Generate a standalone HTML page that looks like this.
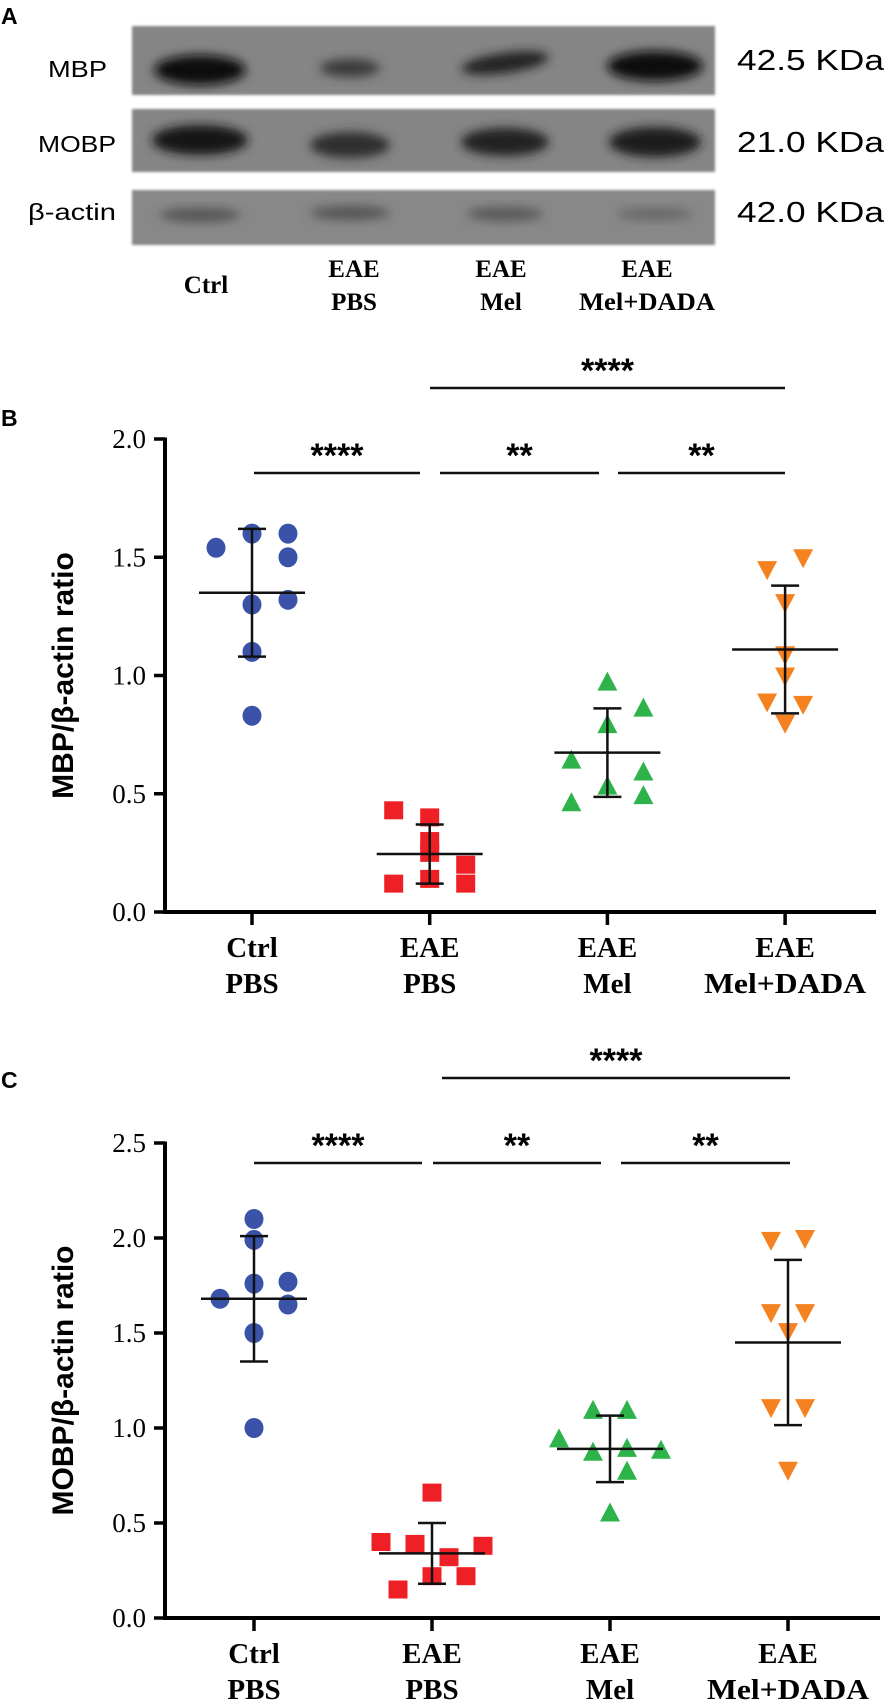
<!DOCTYPE html>
<html><head><meta charset="utf-8">
<style>
html,body{margin:0;padding:0;background:#fff;}
svg{display:block;}
.ser{font-family:"Liberation Serif",serif;}
.sans{font-family:"Liberation Sans",sans-serif;}
</style></head>
<body>
<svg id="fig" width="886" height="1704" viewBox="0 0 886 1704" xmlns="http://www.w3.org/2000/svg">
<defs>
<filter id="blur" x="-50%" y="-50%" width="200%" height="200%"><feGaussianBlur stdDeviation="5"/></filter>
<filter id="blur2" x="-50%" y="-50%" width="200%" height="200%"><feGaussianBlur stdDeviation="1.2"/></filter>
</defs>
<!-- Panel A -->
<g>
<text class="sans" x="1" y="24" font-size="23" font-weight="bold">A</text>
<g>
<rect x="132" y="26" width="583" height="69" fill="#858585" filter="url(#blur2)"/>
<ellipse cx="200" cy="70" rx="46" ry="15" fill="#101010" filter="url(#blur)"/>
<ellipse cx="350" cy="68" rx="30" ry="9" fill="#3a3a3a" filter="url(#blur)"/>
<ellipse cx="505" cy="63" rx="44" ry="10" fill="#222" transform="rotate(-8 505 63)" filter="url(#blur)"/>
<ellipse cx="655" cy="66" rx="48" ry="15" fill="#101010" filter="url(#blur)"/>
</g>
<g>
<rect x="132" y="109" width="583" height="63" fill="#858585" filter="url(#blur2)"/>
<ellipse cx="200" cy="140" rx="48" ry="15" fill="#151515" filter="url(#blur)"/>
<ellipse cx="350" cy="145" rx="40" ry="13" fill="#2e2e2e" filter="url(#blur)"/>
<ellipse cx="505" cy="142" rx="44" ry="14" fill="#222" filter="url(#blur)"/>
<ellipse cx="655" cy="142" rx="46" ry="15" fill="#1c1c1c" filter="url(#blur)"/>
</g>
<g>
<rect x="132" y="190" width="583" height="55" fill="#888" filter="url(#blur2)"/>
<ellipse cx="200" cy="215" rx="40" ry="7" fill="#555" filter="url(#blur)"/>
<ellipse cx="350" cy="213" rx="40" ry="7" fill="#555" filter="url(#blur)"/>
<ellipse cx="505" cy="214" rx="38" ry="7" fill="#585858" filter="url(#blur)"/>
<ellipse cx="655" cy="214" rx="38" ry="6" fill="#666" filter="url(#blur)"/>
</g>
<text class="sans" x="48" y="77" font-size="23" textLength="59" lengthAdjust="spacingAndGlyphs">MBP</text>
<text class="sans" x="38" y="152" font-size="23" textLength="78" lengthAdjust="spacingAndGlyphs">MOBP</text>
<text class="sans" x="28" y="220" font-size="23" textLength="88" lengthAdjust="spacingAndGlyphs">β-actin</text>
<text class="sans" x="737" y="70" font-size="29" textLength="147" lengthAdjust="spacingAndGlyphs">42.5 KDa</text>
<text class="sans" x="737" y="152" font-size="29" textLength="147" lengthAdjust="spacingAndGlyphs">21.0 KDa</text>
<text class="sans" x="737" y="222" font-size="29" textLength="147" lengthAdjust="spacingAndGlyphs">42.0 KDa</text>
<g class="ser" font-weight="bold" font-size="25" text-anchor="middle">
<text x="206" y="293">Ctrl</text>
<text x="354" y="277">EAE</text>
<text x="354" y="310">PBS</text>
<text x="501" y="277">EAE</text>
<text x="501" y="310">Mel</text>
<text x="647" y="277">EAE</text>
<text x="647" y="310" textLength="136" lengthAdjust="spacingAndGlyphs">Mel+DADA</text>
</g>
</g>
<text class="sans" x="1" y="426" font-size="23" font-weight="bold">B</text>
<text class="sans" x="1" y="1088" font-size="23" font-weight="bold">C</text>
<g id="chartB"></g>
<g id="chartC"></g>
</svg>
<script>
// ---- Panel B data (MBP/β-actin) ----
const groupLabels1 = ["Ctrl","EAE","EAE","EAE"];
const groupLabels2 = ["PBS","PBS","Mel","Mel+DADA"];
const bTicks = ["0.0","0.5","1.0","1.5","2.0"];
const bTickValues = [0,0.5,1.0,1.5,2.0];
const bCtrl = [1.54,1.60,1.60,1.50,1.30,1.32,1.10,0.83];
const bCtrlCol = [-2,0,2,2,0,2,0,0];
const bPbs = [0.43,0.12,0.40,0.30,0.25,0.14,0.20,0.12];
const bPbsCol = [-2,-2,0,0,0,0,2,2];
const bMel = [0.97,0.86,0.79,0.64,0.59,0.53,0.49,0.46];
const bMelCol = [0,2,0,-2,2,0,2,-2];
const bDada = [1.45,1.50,1.31,1.09,1.00,0.89,0.88,0.80];
const bDadaCol = [-1,1,0,0,0,-1,1,0];
const bMean = [1.35,0.245,0.674,1.11];
const bSd = [0.27,0.125,0.187,0.27];
const bSig = ["****","**","**","****"];
// ---- Panel C data (MOBP/β-actin) ----
const cTicks = ["0.0","0.5","1.0","1.5","2.0","2.5"];
const cTickValues = [0,0.5,1.0,1.5,2.0,2.5];
const cCtrl = [2.10,1.99,1.76,1.77,1.68,1.65,1.50,1.00];
const cCtrlCol = [0,0,0,2,-2,2,0,0];
const cPbs = [0.66,0.40,0.39,0.38,0.32,0.22,0.22,0.15];
const cPbsCol = [0,-3,-1,3,1,0,2,-2];
const cMel = [1.09,1.09,0.94,0.89,0.88,0.87,0.77,0.55];
const cMelCol = [-1,1,-3,1,3,-1,1,0];
const cDada = [1.99,2.00,1.61,1.61,1.51,1.11,1.11,0.78];
const cDadaCol = [-1,1,-1,1,0,-1,1,0];
const cMean = [1.68,0.34,0.89,1.45];
const cSd = [0.33,0.16,0.175,0.435];
const cSig = ["****","**","**","****"];

const NS = "http://www.w3.org/2000/svg";
const colors = ["#3a52a8","#ee2026","#2db34a","#f58220"];
function mk(tag, attrs, parent){const e=document.createElementNS(NS,tag);for(const k in attrs)e.setAttribute(k,attrs[k]);parent.appendChild(e);return e;}

function drawChart(g, cfg){
  const y = v => cfg.y0 - (v/cfg.vmax)*(cfg.y0-cfg.yTop);
  const x = i => cfg.xTicks0 + i*cfg.xStep;
  // axes
  const ya = mk('line',{x1:cfg.axisX,y1:y(cfg.vmax)-1.5,x2:cfg.axisX,y2:cfg.y0+2,stroke:'#000','stroke-width':4},g);
  
  
  const xa = mk('line',{x1:cfg.axisX-2,y1:cfg.y0,x2:cfg.axisEnd,y2:cfg.y0,stroke:'#000','stroke-width':4},g);
  
  
  cfg.tickValues.forEach((v,i)=>{
    const t = mk('line',{x1:cfg.axisX-11,y1:y(v),x2:cfg.axisX,y2:y(v),stroke:'#000','stroke-width':3.5},g);
    
    
    const tl = mk('text',{x:cfg.axisX-19,y:y(v)+9,'text-anchor':'end','font-size':27,'class':'ser'},g);
    
    
    tl.textContent = cfg.tickLabels[i];
  });
  for(let i=0;i<4;i++){
    const t = mk('line',{x1:x(i),y1:cfg.y0,x2:x(i),y2:cfg.y0+13,stroke:'#000','stroke-width':3.5},g);
    
    
    const l1 = mk('text',{x:x(i),y:cfg.y0+45,'text-anchor':'middle','font-size':29,'font-weight':'bold','class':'ser'},g);
    
    
    l1.textContent = groupLabels1[i];
    const l2 = mk('text',{x:x(i),y:cfg.y0+81,'text-anchor':'middle','font-size':29,'font-weight':'bold','class':'ser'},g);
    
    
    l2.textContent = groupLabels2[i];
    if(i===3){l2.setAttribute('textLength',162);l2.setAttribute('lengthAdjust','spacingAndGlyphs');}
  }
  // y title
  const yt = mk('text',{x:0,y:0,'text-anchor':'middle','font-size':30,'font-weight':'bold','class':'sans',transform:`translate(${cfg.titleX},${(cfg.yTop+cfg.y0)/2}) rotate(-90)`},g);
  
  
  yt.textContent = cfg.title;
  // points
  cfg.series.forEach((vals,gi)=>{
    vals.forEach((v,j)=>{
      const px = x(gi) + cfg.cols[gi][j]*cfg.jit;
      const py = y(v);
      let m;
      if(gi===0) m = mk('ellipse',{cx:px,cy:py,rx:9.5,ry:10,fill:colors[0]},g);
      else if(gi===1) m = mk('rect',{x:px-9.5,y:py-9,width:19,height:18,fill:colors[1]},g);
      else if(gi===2) m = mk('polygon',{points:`${px},${py-11} ${px+10},${py+8} ${px-10},${py+8}`,fill:colors[2]},g);
      else m = mk('polygon',{points:`${px-10},${py-8} ${px+10},${py-8} ${px},${py+11}`,fill:colors[3]},g);
      
      
    });
  });
  // mean & sd
  for(let i=0;i<4;i++){
    const mv = cfg.mean[i], sd = cfg.sd[i];
    const ml = mk('line',{x1:x(i)-53,y1:y(mv),x2:x(i)+53,y2:y(mv),stroke:'#111','stroke-width':2.5},g);
    
    
    const el = mk('line',{x1:x(i),y1:y(mv+sd),x2:x(i),y2:y(mv-sd),stroke:'#111','stroke-width':2.5},g);
    
    
    [mv+sd,mv-sd].forEach(v=>{
      const c = mk('line',{x1:x(i)-14,y1:y(v),x2:x(i)+14,y2:y(v),stroke:'#111','stroke-width':2.5},g);
      
      
    });
  }
  // significance
  cfg.bars.forEach((b,i)=>{
    const l = mk('line',{x1:b[0],y1:b[2],x2:b[1],y2:b[2],stroke:'#111','stroke-width':2.5},g);
    
    
    const s = mk('text',{x:(b[0]+b[1])/2,y:b[2]-6,'text-anchor':'middle','font-size':34,'font-weight':'bold','class':'sans'},g);
    
    
    s.textContent = cfg.sig[i];
  });
}

drawChart(document.getElementById('chartB'),{
  y0:912, yTop:439, vmax:2.0, axisX:165, axisEnd:876, xTicks0:252, xStep:177.7, jit:18,
  tickValues:bTickValues, tickLabels:bTicks, title:"MBP/β-actin ratio", titleX:73,
  series:[bCtrl,bPbs,bMel,bDada], cols:[bCtrlCol,bPbsCol,bMelCol,bDadaCol],
  mean:bMean, sd:bSd, sig:bSig,
  bars:[[254,420,473],[440,599,473],[618,785,473],[430,785,388]]
});
drawChart(document.getElementById('chartC'),{
  y0:1618, yTop:1143, vmax:2.5, axisX:165, axisEnd:880, xTicks0:254, xStep:178, jit:17,
  tickValues:cTickValues, tickLabels:cTicks, title:"MOBP/β-actin ratio", titleX:73,
  series:[cCtrl,cPbs,cMel,cDada], cols:[cCtrlCol,cPbsCol,cMelCol,cDadaCol],
  mean:cMean, sd:cSd, sig:cSig,
  bars:[[254,422,1163],[433,601,1163],[621,790,1163],[442,790,1078]]
});
</script>
</body></html>
